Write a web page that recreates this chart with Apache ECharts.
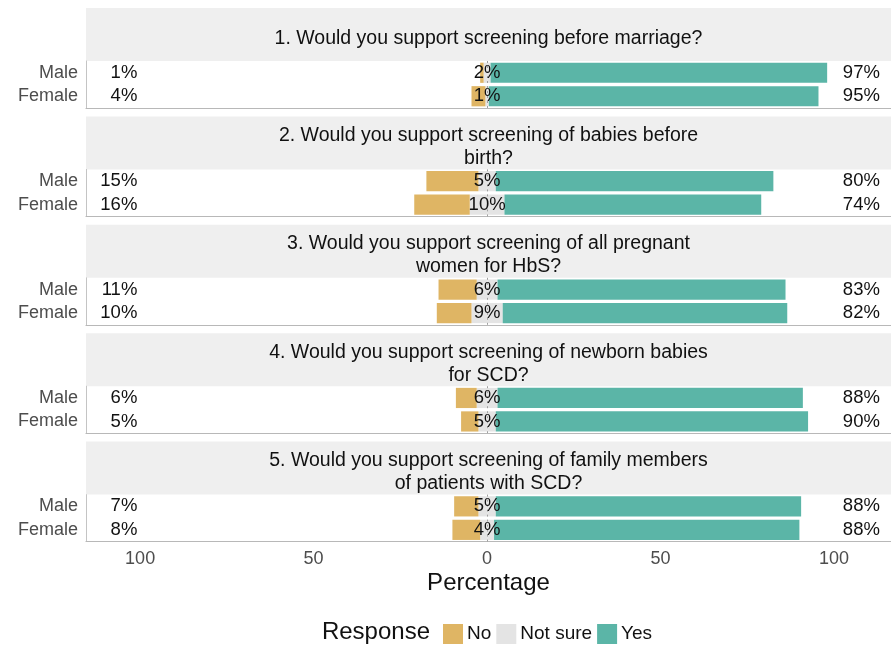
<!DOCTYPE html>
<html><head><meta charset="utf-8">
<script src="https://cdn.jsdelivr.net/npm/echarts@6/dist/echarts.min.js"></script>
<style>html,body{margin:0;padding:0;background:#fff}#c{width:891px;height:646px}</style>
</head><body><div id="c"></div>
<script>
// ---- data ----
const categories = ['Female', 'Male']; // bottom to top
const questions = [
  '1. Would you support screening before marriage?',
  '2. Would you support screening of babies before\nbirth?',
  '3. Would you support screening of all pregnant\nwomen for HbS?',
  '4. Would you support screening of newborn babies\nfor SCD?',
  '5. Would you support screening of family members\nof patients with SCD?'
];
const noMale      = [1, 15, 11, 6, 7];
const notSureMale = [2, 5, 6, 6, 5];
const yesMale     = [97, 80, 83, 88, 88];
const noFemale      = [4, 16, 10, 5, 8];
const notSureFemale = [1, 10, 9, 5, 4];
const yesFemale     = [95, 74, 82, 90, 88];
const tickValues = [-100, -50, 0, 50, 100];
const responses = ['No', 'Not sure', 'Yes'];

// ---- style / layout ----
const FONT = '"Liberation Sans", Arial, sans-serif';
const COLORS = { 'No': '#dfb564', 'Not sure': '#e4e4e4', 'Yes': '#5bb5a7' };
const W = 891;
const LAY = { left: 86, top0: 8, period: 108.4, strip: 53, panel: 47 };
const X_MIN = -115.6, X_MAX = 116.4;
const LEFT_LABEL_X = -100.8, RIGHT_LABEL_X = 113.2;

const grids = [], xAxes = [], yAxes = [], series = [], graphics = [];

questions.forEach((q, i) => {
  const stripTop = LAY.top0 + i * LAY.period;
  const panelTop = stripTop + LAY.strip;
  graphics.push({
    type: 'rect', silent: true, z: -10,
    shape: { x: LAY.left, y: stripTop, width: W - LAY.left, height: LAY.strip },
    style: { fill: '#efefef' }
  });
  graphics.push({
    type: 'text', silent: true,
    x: LAY.left + (W - LAY.left) / 2, y: stripTop + LAY.strip / 2 + 4,
    style: { text: q, fontFamily: FONT, fontSize: 19.5, lineHeight: 23, fill: '#111',
             textAlign: 'center', textVerticalAlign: 'middle' }
  });
  grids.push({ left: LAY.left, right: 0, top: panelTop, height: LAY.panel });
  const last = i === questions.length - 1;
  xAxes.push({
    type: 'value', gridIndex: i, min: X_MIN, max: X_MAX,
    axisLine: { show: true, onZero: false, lineStyle: { color: '#b8b8b8', width: 1.2 } },
    axisTick: { show: false },
    splitLine: { show: false },
    axisLabel: {
      show: last, customValues: tickValues, margin: 8,
      formatter: v => String(Math.abs(v)),
      fontFamily: FONT, fontSize: 18, color: '#4d4d4d'
    },
    name: last ? 'Percentage' : '', nameLocation: 'middle', nameGap: 30,
    nameTextStyle: { fontFamily: FONT, fontSize: 24, color: '#111' }
  });
  yAxes.push({
    type: 'category', gridIndex: i, data: categories,
    axisLine: { show: true, onZero: false, lineStyle: { color: '#c4c4c4', width: 1 } },
    axisTick: { show: false },
    axisLabel: { fontFamily: FONT, fontSize: 18, color: '#4d4d4d', margin: 8 }
  });

  const nsF = notSureFemale[i], nsM = notSureMale[i];
  const stack = 's' + i;
  const barBase = { type: 'bar', xAxisIndex: i, yAxisIndex: i, stack: stack,
                    barCategoryGap: '14%', silent: true };
  series.push(Object.assign({}, barBase, {
    name: 'Not sure', itemStyle: { color: COLORS['Not sure'] },
    data: [-nsF / 2, -nsM / 2],
    markLine: {
      silent: true, symbol: 'none', label: { show: false },
      lineStyle: { color: '#a0a0a0', type: [2, 3], width: 1 },
      data: [{ xAxis: 0 }]
    }
  }));
  series.push(Object.assign({}, barBase, {
    name: 'Not sure', itemStyle: { color: COLORS['Not sure'] },
    data: [nsF / 2, nsM / 2]
  }));
  series.push(Object.assign({}, barBase, {
    name: 'No', itemStyle: { color: COLORS['No'] },
    data: [-noFemale[i], -noMale[i]]
  }));
  series.push(Object.assign({}, barBase, {
    name: 'Yes', itemStyle: { color: COLORS['Yes'] },
    data: [yesFemale[i], yesMale[i]]
  }));

  const lblStyle = { show: true, position: [0, 0], verticalAlign: 'middle',
                     fontFamily: FONT, fontSize: 18.5, color: '#111', opacity: 1,
                     textBorderWidth: 0, textShadowBlur: 0,
                     formatter: p => p.value[2] + '%' };
  const mk = (name, x, vals, align) => ({
    type: 'scatter', name: name, xAxisIndex: i, yAxisIndex: i, symbolSize: 0, z: 10, silent: true,
    itemStyle: { opacity: 1, color: '#111' },
    label: Object.assign({}, lblStyle, { align: align }),
    data: [[x, categories[0], vals[0]], [x, categories[1], vals[1]]]
  });
  series.push(mk('lblNo', LEFT_LABEL_X, [noFemale[i], noMale[i]], 'right'));
  series.push(mk('lblNs', 0, [nsF, nsM], 'center'));
  series.push(mk('lblYes', RIGHT_LABEL_X, [yesFemale[i], yesMale[i]], 'right'));
});

graphics.push({
  type: 'text', silent: true, x: 430, y: 632,
  style: { text: 'Response', fontFamily: FONT, fontSize: 24, fill: '#111',
           textAlign: 'right', textVerticalAlign: 'middle' }
});

const chart = echarts.init(document.getElementById('c'), null, { renderer: 'canvas' });
chart.setOption({
  animation: false,
  backgroundColor: '#fff',
  grid: grids, xAxis: xAxes, yAxis: yAxes, series: series,
  graphic: graphics,
  legend: {
    data: responses, left: 438, top: 619, itemWidth: 20, itemHeight: 20, itemGap: 5,
    icon: 'rect', selectedMode: false,
    textStyle: { fontFamily: FONT, fontSize: 19, color: '#111', padding: [0, 0, 0, -1] }
  }
});
</script></body></html>
